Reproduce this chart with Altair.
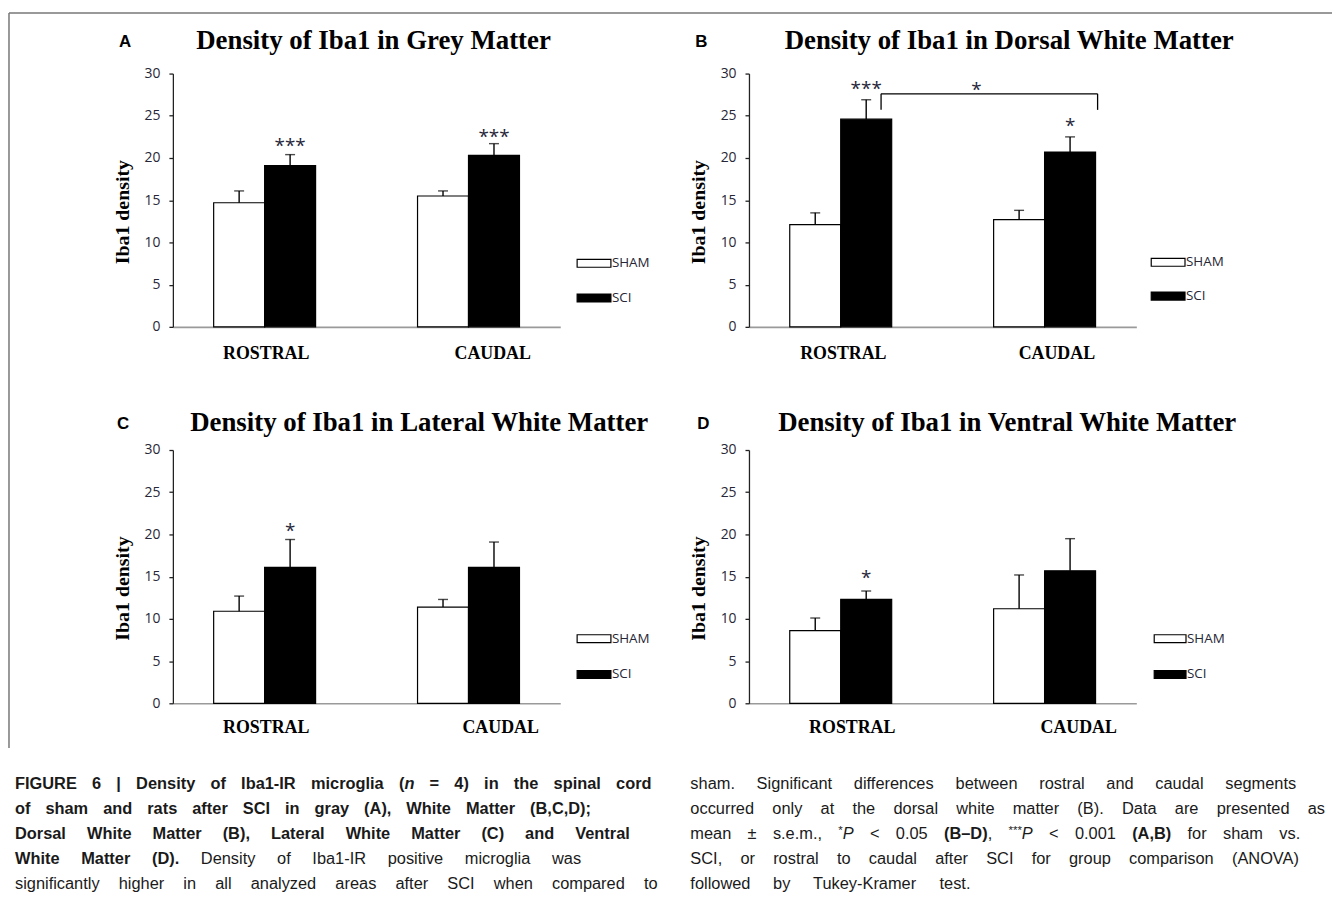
import altair as alt
import pandas as pd

# ---------------- data ----------------
categories = ["ROSTRAL", "CAUDAL"]
groups = ["SHAM", "SCI"]
panels = ["A", "B", "C", "D"]
panel_titles = [
    "Density of Iba1 in Grey Matter",
    "Density of Iba1 in Dorsal White Matter",
    "Density of Iba1 in Lateral White Matter",
    "Density of Iba1 in Ventral White Matter",
]
sham_mean = [[14.7, 15.5], [12.1, 12.7], [10.9, 11.4], [8.6, 11.2]]
sham_sem = [[1.4, 0.6], [1.4, 1.1], [1.8, 0.9], [1.5, 4.0]]
sci_mean = [[19.1, 20.3], [24.6, 20.7], [16.1, 16.1], [12.3, 15.7]]
sci_sem = [[1.3, 1.4], [2.3, 1.8], [3.3, 3.0], [1.0, 3.8]]
y_ticks = [0, 5, 10, 15, 20, 25, 30]
y_title = "Iba1 density"

sig_panel = ["A", "A", "B", "B", "C", "D"]
sig_cat = ["ROSTRAL", "CAUDAL", "ROSTRAL", "CAUDAL", "ROSTRAL", "ROSTRAL"]
sig_label = ["***", "***", "***", "*", "*", "*"]
sig_y = [22.1, 23.2, 28.9, 24.5, 21.1, 15.5]

bracket_top = 27.6
bracket_end = 25.7
bracket_label = "*"
bracket_label_y = 28.8

caption_left = [
    [("FIGURE 6 | Density of Iba1-IR microglia (", "b"), ("n", "bi"), (" = 4) in the spinal cord", "b")],
    [("of sham and rats after SCI in gray (A), White Matter (B,C,D);", "b")],
    [("Dorsal White Matter (B), Lateral White Matter (C) and Ventral", "b")],
    [("White Matter (D).", "b"), (" Density of Iba1-IR positive microglia was", "r")],
    [("significantly higher in all analyzed areas after SCI when compared to", "r")],
]
caption_right = [
    [("sham. Significant differences between rostral and caudal segments", "r")],
    [("occurred only at the dorsal white matter (B). Data are presented as", "r")],
    [("mean \u00b1 s.e.m., ", "r"), ("*", "s"), ("P", "i"), (" < 0.05 ", "r"), ("(B\u2013D)", "b"),
     (", ", "r"), ("***", "s"), ("P", "i"), (" < 0.001 ", "r"), ("(A,B)", "b"), (" for sham vs.", "r")],
    [("SCI, or rostral to caudal after SCI for group comparison (ANOVA)", "r")],
    [("followed by Tukey-Kramer test.", "r")],
]

# ---------------- layout (page pixels) ----------------
W, H = 390, 255
origin = {"A": (173, 73), "B": (753, 73), "C": (173, 452), "D": (753, 452)}
title_pos = {"A": (375, 40), "B": (1015, 40), "C": (421, 425), "D": (1013, 425)}
letter_pos = {"A": (125, 41), "B": (705, 41), "C": (123, 426), "D": (707, 426)}
legend_x = {"A": (580, 614), "B": (1158, 1192), "C": (580, 614), "D": (1161, 1193)}
legend_y = {"A": (264, 299), "B": (263, 297), "C": (642, 678), "D": (642, 678)}
xlabel_x = {"A": (267, 495), "B": (848, 1063), "C": (267, 503), "D": (857, 1085)}
xlabel_y = {"A": 355, "B": 355, "C": 732, "D": 732}
bracket_px = (886, 1104, 982)

SERIF = "Liberation Serif"
SANS = "Open Sans"
CAP_FONT = "Liberation Sans"
CAP_FS = 16.5

# ---------------- caption layout helpers ----------------
REG = {" ": 278, "(": 333, ")": 333, "*": 389, ",": 278, "-": 333, ".": 278, ":": 278, ";": 278,
       "<": 584, "=": 584, "|": 260, "\u00b1": 549, "\u2013": 556,
       "A": 667, "B": 667, "C": 722, "D": 722, "E": 667, "F": 611, "G": 778, "H": 722, "I": 278,
       "J": 500, "K": 667, "L": 556, "M": 833, "N": 722, "O": 778, "P": 667, "Q": 778, "R": 722,
       "S": 667, "T": 611, "U": 722, "V": 667, "W": 944, "X": 667, "Y": 667, "Z": 611,
       "a": 556, "b": 556, "c": 500, "d": 556, "e": 556, "f": 278, "g": 556, "h": 556, "i": 222,
       "j": 222, "k": 500, "l": 222, "m": 833, "n": 556, "o": 556, "p": 556, "q": 556, "r": 333,
       "s": 500, "t": 278, "u": 556, "v": 500, "w": 722, "x": 500, "y": 500, "z": 500}
BOLD = dict(REG)
BOLD.update({" ": 278, ";": 333, ":": 333, "|": 280,
             "A": 722, "B": 722, "J": 556, "K": 722, "L": 611,
             "b": 611, "c": 556, "d": 611, "f": 333, "g": 611, "h": 611, "i": 278, "j": 278,
             "k": 556, "l": 278, "m": 889, "n": 611, "o": 611, "p": 611, "q": 611, "r": 389,
             "s": 556, "t": 333, "u": 611, "v": 556, "w": 778, "x": 556, "y": 556})


def seg_width(t, f):
    table = BOLD if f in ("b", "bi") else REG
    fs = CAP_FS * 0.7 if f == "s" else CAP_FS
    return sum(table.get(ch, 556) for ch in t) / 1000.0 * fs


def layout_line(line, x0, x1, y):
    words, cur = [], []
    for text, f in line:
        for ch in text:
            if ch == " ":
                if cur:
                    words.append(cur)
                    cur = []
            elif cur and cur[-1][1] == f:
                cur[-1] = (cur[-1][0] + ch, f)
            else:
                cur.append((ch, f))
    if cur:
        words.append(cur)
    widths = [sum(seg_width(t, f) for t, f in w) for w in words]
    space = 0.278 * CAP_FS
    natural = sum(widths) + space * (len(words) - 1)
    gap = space + max(0.0, (x1 - x0) - natural) / max(1, len(words) - 1)
    rows, x = [], x0
    for w, wd in zip(words, widths):
        xx = x
        for t, f in w:
            rows.append({"t": t, "f": f, "x": xx, "y": y})
            xx += seg_width(t, f)
        x += wd + gap
    return rows


left_x0, right_x0 = 14, 694
left_ends = [655, 594, 634, 584, 661]
right_ends = [1304, 1333, 1308, 1308, 976]
line_y = [787 + 25.3 * k for k in range(5)]


def caption_layers(ox, oy):
    rows = []
    for k, line in enumerate(caption_left):
        rows += layout_line(line, left_x0, left_ends[k], line_y[k])
    for k, line in enumerate(caption_right):
        rows += layout_line(line, right_x0, right_ends[k], line_y[k])
    df = pd.DataFrame(rows)
    df["px"] = df["x"] - ox
    df["py"] = df["y"] - oy + 6
    fmt_style = {"r": ("normal", "normal", 1.0, 0), "b": ("bold", "normal", 1.0, 0),
                 "bi": ("bold", "italic", 1.0, 0), "i": ("normal", "italic", 1.0, 0),
                 "s": ("normal", "normal", 0.7, -5)}
    out = []
    for f, (wt, st, sc, dy) in fmt_style.items():
        out.append(alt.Chart(df[df["f"] == f]).mark_text(
            font=CAP_FONT, fontSize=CAP_FS * sc, fontWeight=wt, fontStyle=st, align="left",
            baseline="alphabetic", dy=dy, color="#1a1a1a").encode(
            x=alt.X("px:Q", scale=None, axis=None), y=alt.Y("py:Q", scale=None, axis=None), text="t:N"))
    return out


def panel(i):
    pid = panels[i]
    ox, oy = origin[pid]
    df = pd.DataFrame({
        "category": categories * 2,
        "group": [groups[0]] * 2 + [groups[1]] * 2,
        "mean": sham_mean[i] + sci_mean[i],
        "sem": sham_sem[i] + sci_sem[i],
    })
    df["top"] = df["mean"] + df["sem"]

    xenc = alt.X("category:N", sort=categories,
                 scale=alt.Scale(domain=categories, paddingInner=0.5, paddingOuter=0.2),
                 axis=alt.Axis(labels=False, ticks=False, title=None,
                               domainColor="#9a9a9a", domainWidth=1.6))
    xoff = alt.XOffset("group:N", sort=groups,
                       scale=alt.Scale(domain=groups, paddingInner=0, paddingOuter=0))
    yscale = alt.Scale(domain=[0, 30], nice=False)
    yaxis = alt.Axis(values=y_ticks, grid=False, tickSize=4, labelPadding=9,
                     labelFont=SANS, labelFontSize=14, labelColor="#262636",
                     domainColor="#222", tickColor="#222", domainWidth=1.3, tickWidth=1.3,
                     title=y_title, titleFont=SERIF, titleFontSize=20, titleFontWeight="bold",
                     titleColor="black", titleAngle=270, titleX=-51, titleY=139,
                     titleAlign="center", titleBaseline="middle")

    base = alt.Chart(df)
    bars = base.mark_bar(stroke="black", strokeWidth=1.2).encode(
        x=xenc, xOffset=xoff,
        y=alt.Y("mean:Q", scale=yscale, axis=yaxis),
        fill=alt.Fill("group:N", scale=alt.Scale(domain=groups, range=["white", "black"]), legend=None),
    )
    err = base.mark_rule(color="black", strokeWidth=1.4).encode(
        x=xenc, xOffset=xoff, y="mean:Q", y2="top:Q")
    cap = base.mark_tick(color="black", size=10, thickness=1.4).encode(
        x=xenc, xOffset=xoff, y="top:Q")

    layers = [bars, err, cap]

    sig = pd.DataFrame({"panel": sig_panel, "category": sig_cat, "label": sig_label, "y": sig_y})
    sig = sig[sig["panel"] == pid].assign(group="SCI")
    layers.append(alt.Chart(sig).mark_text(font=SANS, fontSize=19, baseline="alphabetic",
                                           dy=12, color="#26263a").encode(
        x=xenc, xOffset=xoff, y="y:Q", text="label:N"))

    # x category labels (placed at band centre, nudged as in the figure)
    step = W / (2 - 0.5 + 0.4)
    for k, (c, px) in enumerate(zip(categories, xlabel_x[pid])):
        center = ox + step * (0.2 + 0.25 + k)
        layers.append(alt.Chart(pd.DataFrame({"category": [c]})).mark_text(
            font=SERIF, fontWeight="bold", fontSize=18, baseline="middle", color="black",
            dx=px - center).encode(x=xenc, text="category:N", y=alt.value(xlabel_y[pid] - oy)))

    # title and panel letter
    tx, ty = title_pos[pid]
    layers.append(alt.Chart(pd.DataFrame({"t": [panel_titles[i]]})).mark_text(
        font=SERIF, fontWeight="bold", fontSize=27, align="center", baseline="middle",
        color="black").encode(text="t:N", x=alt.value(tx - ox), y=alt.value(ty - oy)))
    lx, ly = letter_pos[pid]
    layers.append(alt.Chart(pd.DataFrame({"t": [pid]})).mark_text(
        font="Liberation Sans", fontWeight="bold", fontSize=17, align="center",
        baseline="middle", color="black").encode(text="t:N", x=alt.value(lx - ox), y=alt.value(ly - oy)))

    # legend
    bx0, bx1 = legend_x[pid]
    for g, yc, fill in zip(groups, legend_y[pid], ["white", "black"]):
        layers.append(alt.Chart(pd.DataFrame({"g": [g]})).mark_rect(
            fill=fill, stroke="black", strokeWidth=1.2).encode(
            x=alt.value(bx0 - ox), x2=alt.value(bx1 - ox),
            y=alt.value(yc - oy - 4), y2=alt.value(yc - oy + 4)))
        layers.append(alt.Chart(pd.DataFrame({"g": [g]})).mark_text(
            font=SANS, fontSize=13.5, align="left", baseline="middle", color="#262636").encode(
            text="g:N", x=alt.value(bx1 - ox + 1), y=alt.value(yc - oy)))

    if pid == "B":
        one = alt.Chart(pd.DataFrame({"a": [0]}))
        bl, br, bs = bracket_px
        layers.append(one.mark_rule(color="black", strokeWidth=1.3).encode(
            x=alt.value(bl - ox), x2=alt.value(br - ox), y=alt.datum(bracket_top)))
        layers.append(one.mark_rule(color="black", strokeWidth=1.3).encode(
            x=alt.value(bl - ox), y=alt.datum(bracket_top), y2=alt.datum(bracket_end)))
        layers.append(one.mark_rule(color="black", strokeWidth=1.3).encode(
            x=alt.value(br - ox), y=alt.datum(bracket_top), y2=alt.datum(bracket_end)))
        layers.append(alt.Chart(pd.DataFrame({"t": [bracket_label]})).mark_text(
            font=SANS, fontSize=19, baseline="alphabetic", dy=12, color="#26263a").encode(
            text="t:N", x=alt.value(bs - ox), y=alt.datum(bracket_label_y)))

    if pid == "A":
        one = alt.Chart(pd.DataFrame({"a": [0]}))
        layers.append(one.mark_rule(color="#777", strokeWidth=1.5).encode(
            x=alt.value(8 - ox), x2=alt.value(1340 - ox), y=alt.value(12 - oy)))
        layers.append(one.mark_rule(color="#777", strokeWidth=1.5).encode(
            x=alt.value(8 - ox), y=alt.value(12 - oy), y2=alt.value(752 - oy)))

    if pid == "C":
        layers += caption_layers(ox, oy)

    return alt.layer(*layers).properties(width=W, height=H)


chart = alt.concat(panel(0), panel(1), panel(2), panel(3), columns=2,
                   spacing={"row": 124, "column": 190}, bounds="flush").properties(
    padding={"left": 0, "top": 1, "right": 0, "bottom": 0}, background="white"
).configure_view(stroke=None)

chart.save("out.html", embed_options={"renderer": "svg", "actions": False})
